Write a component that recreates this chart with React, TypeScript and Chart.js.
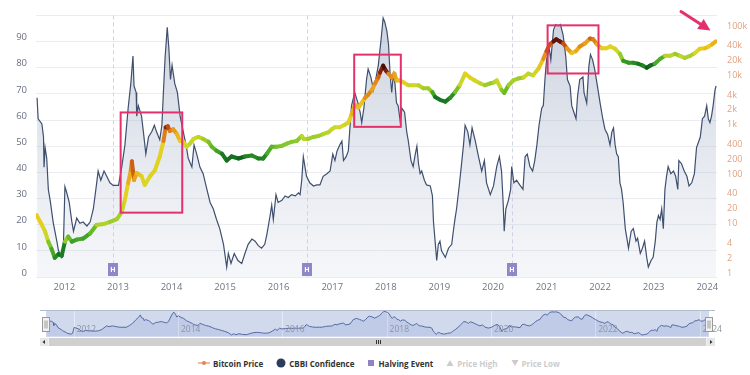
import { useEffect, useRef } from 'react';
import { Chart, registerables } from 'chart.js';

Chart.register(...registerables);

// CBBI confidence score (0-100), sampled in decimal years
const cbbiDates = [
  2011.49, 2011.51, 2011.58, 2011.61, 2011.62, 2011.64, 2011.67, 2011.7, 2011.74, 2011.79,
  2011.86, 2011.89, 2011.95, 2011.98, 2012.01, 2012.04, 2012.09, 2012.14, 2012.17, 2012.23,
  2012.29, 2012.35, 2012.42, 2012.48, 2012.54, 2012.6, 2012.63, 2012.68, 2012.74, 2012.79,
  2012.85, 2012.91, 2013.01, 2013.07, 2013.13, 2013.19, 2013.24, 2013.28, 2013.3, 2013.34,
  2013.35, 2013.38, 2013.44, 2013.48, 2013.52, 2013.57, 2013.63, 2013.68, 2013.72, 2013.78,
  2013.82, 2013.85, 2013.88, 2013.92, 2013.95, 2013.98, 2014.01, 2014.06, 2014.11, 2014.16,
  2014.22, 2014.28, 2014.31, 2014.38, 2014.42, 2014.47, 2014.53, 2014.59, 2014.66, 2014.72,
  2014.78, 2014.84, 2014.9, 2014.97, 2015.03, 2015.06, 2015.11, 2015.17, 2015.24, 2015.31,
  2015.37, 2015.43, 2015.5, 2015.56, 2015.62, 2015.68, 2015.74, 2015.78, 2015.84, 2015.87,
  2015.9, 2015.95, 2015.99, 2016.06, 2016.12, 2016.18, 2016.24, 2016.31, 2016.37, 2016.4,
  2016.43, 2016.46, 2016.49, 2016.52, 2016.58, 2016.65, 2016.71, 2016.77, 2016.83, 2016.9,
  2016.96, 2017.01, 2017.05, 2017.09, 2017.14, 2017.18, 2017.21, 2017.26, 2017.3, 2017.33,
  2017.36, 2017.42, 2017.48, 2017.52, 2017.55, 2017.59, 2017.64, 2017.67, 2017.72, 2017.77,
  2017.82, 2017.86, 2017.91, 2017.95, 2017.98, 2018.02, 2018.05, 2018.08, 2018.11, 2018.14,
  2018.17, 2018.2, 2018.23, 2018.27, 2018.3, 2018.35, 2018.39, 2018.42, 2018.47, 2018.51,
  2018.55, 2018.58, 2018.61, 2018.64, 2018.67, 2018.72, 2018.76, 2018.83, 2018.87, 2018.89,
  2018.92, 2018.95, 2018.98, 2019.01, 2019.04, 2019.11, 2019.17, 2019.23, 2019.26, 2019.29,
  2019.32, 2019.37, 2019.42, 2019.45, 2019.48, 2019.53, 2019.57, 2019.61, 2019.67, 2019.73,
  2019.79, 2019.84, 2019.88, 2019.95, 2020.01, 2020.07, 2020.12, 2020.16, 2020.19, 2020.21,
  2020.24, 2020.29, 2020.33, 2020.35, 2020.39, 2020.44, 2020.5, 2020.56, 2020.6, 2020.64,
  2020.69, 2020.74, 2020.78, 2020.82, 2020.86, 2020.91, 2020.94, 2020.97, 2021.0, 2021.05,
  2021.08, 2021.13, 2021.17, 2021.22, 2021.26, 2021.31, 2021.36, 2021.39, 2021.44, 2021.47,
  2021.51, 2021.55, 2021.58, 2021.62, 2021.68, 2021.7, 2021.75, 2021.79, 2021.82, 2021.86,
  2021.9, 2021.95, 2022.0, 2022.05, 2022.09, 2022.14, 2022.185, 2022.22, 2022.25, 2022.28,
  2022.31, 2022.34, 2022.37, 2022.4, 2022.43, 2022.47, 2022.5, 2022.53, 2022.58, 2022.62,
  2022.67, 2022.7, 2022.75, 2022.79, 2022.83, 2022.87, 2022.9, 2022.95, 2022.99, 2023.03,
  2023.06, 2023.09, 2023.12, 2023.15, 2023.18, 2023.21, 2023.24, 2023.27, 2023.32, 2023.37,
  2023.41, 2023.45, 2023.47, 2023.52, 2023.57, 2023.62, 2023.66, 2023.71, 2023.76, 2023.8,
  2023.87, 2023.91, 2023.95, 2023.99, 2024.02, 2024.05, 2024.08, 2024.11, 2024.145, 2024.165,
];
const cbbiValues = [
  68.5, 60.5, 58.5, 53.5, 42, 49.5, 45.5, 33.5, 28.5, 21,
  13.5, 10, 7.5, 11, 34.5, 32.5, 28.5, 21, 17.5, 22.5,
  20.5, 21, 19.5, 21, 26, 35.5, 40.5, 37, 40.5, 38.5,
  36, 35, 35, 42, 50.5, 64.5, 74, 84.5, 73, 70.5,
  61.5, 65.5, 61.5, 54.5, 47, 53.5, 55.5, 58, 55.5, 52.5,
  58, 71.5, 84, 95.5, 87.5, 75.5, 81, 74, 70.5, 61.5,
  55.5, 49.5, 45.5, 42, 50.5, 47, 42, 39.5, 33.5, 28.5,
  26, 22, 18.5, 12.5, 3.8, 9, 5.2, 9, 6.3, 5.2,
  9, 12.5, 14.5, 13.7, 12, 11, 12.5, 16.3, 23.5, 27.5,
  22, 31.5, 28.5, 29.3, 31, 30.4, 31.5, 31, 32.2, 31.5,
  37, 46, 42.2, 38.5, 36, 34.8, 35.2, 35.2, 38.5, 39.5,
  40.5, 47, 44.5, 48.2, 50.5, 52, 44.5, 46, 48.2, 57,
  65.5, 70.5, 66.5, 63, 59, 64.5, 75.5, 79.5, 76.5, 71.5,
  76.5, 81, 90.5, 99, 97.5, 94, 89, 77.5, 70.5, 77.5,
  74, 66.5, 65.5, 59.3, 64.5, 63, 55.5, 52, 44.5, 42.2,
  47, 50, 43.3, 39.5, 40.5, 37, 35.2, 34.8, 31, 21,
  13.7, 6.3, 12.5, 13.7, 10, 7.5, 11, 12.5, 17.5, 22,
  26, 34.8, 44.5, 50.5, 58, 55.5, 50.5, 57, 52, 46,
  40.5, 44.5, 36, 31.5, 34.8, 42.2, 46, 40.5, 28.5, 17.5,
  26, 29.5, 33.5, 42.2, 36, 37, 35.2, 33.5, 46, 47,
  42.2, 40.5, 44.5, 50.5, 58, 64.5, 65.5, 75.5, 83, 87.5,
  83, 94.5, 96.5, 96, 96.5, 92.5, 84, 75.5, 73, 65.5,
  63, 60.5, 69.3, 75.5, 76.5, 70.5, 66.5, 80.5, 85, 83,
  79.3, 73, 66.5, 60.5, 56.5, 54.5, 50.5, 55.5, 57, 50.5,
  47, 46, 36, 33.5, 28.5, 18.5, 14.8, 11, 17.5, 18.5,
  13.7, 14.8, 9, 11, 13.7, 7.5, 3.8, 6.3, 7.5, 13.7,
  21, 23.5, 22, 26, 18.5, 33.5, 38.5, 42.2, 39.5, 40.5,
  38.5, 33.5, 44.5, 43.3, 40.5, 38.5, 34.8, 36, 39.5, 49.5,
  53.5, 60.5, 61.5, 65.5, 60.5, 59, 61.5, 65.5, 71.5, 73,
];

// Bitcoin price in USD (log axis), sampled in decimal years
const priceDates = [
  2011.48, 2011.58, 2011.64, 2011.7, 2011.76, 2011.82, 2011.89, 2011.95, 2012.01, 2012.07,
  2012.14, 2012.23, 2012.35, 2012.48, 2012.6, 2012.73, 2012.85, 2012.98, 2013.07, 2013.13,
  2013.19, 2013.24, 2013.26, 2013.3, 2013.35, 2013.44, 2013.5, 2013.6, 2013.69, 2013.78,
  2013.85, 2013.89, 2013.93, 2013.97, 2014.03, 2014.1, 2014.16, 2014.22, 2014.28, 2014.34,
  2014.41, 2014.5, 2014.59, 2014.69, 2014.75, 2014.84, 2014.94, 2015.03, 2015.12, 2015.25,
  2015.37, 2015.5, 2015.62, 2015.71, 2015.78, 2015.87, 2015.96, 2016.06, 2016.15, 2016.24,
  2016.34, 2016.43, 2016.47, 2016.55, 2016.65, 2016.74, 2016.83, 2016.93, 2016.99, 2017.05,
  2017.14, 2017.24, 2017.3, 2017.36, 2017.42, 2017.49, 2017.55, 2017.61, 2017.67, 2017.74,
  2017.8, 2017.86, 2017.89, 2017.95, 2018.0, 2018.05, 2018.11, 2018.16, 2018.2, 2018.26,
  2018.33, 2018.42, 2018.51, 2018.61, 2018.7, 2018.79, 2018.87, 2018.92, 2019.01, 2019.11,
  2019.2, 2019.29, 2019.38, 2019.48, 2019.57, 2019.66, 2019.76, 2019.85, 2019.95, 2020.02,
  2020.07, 2020.16, 2020.21, 2020.29, 2020.38, 2020.47, 2020.57, 2020.66, 2020.75, 2020.85,
  2020.94, 2021.0, 2021.06, 2021.13, 2021.18, 2021.25, 2021.31, 2021.38, 2021.47, 2021.55,
  2021.62, 2021.72, 2021.81, 2021.87, 2021.94, 2022.03, 2022.12, 2022.19, 2022.28, 2022.37,
  2022.43, 2022.53, 2022.62, 2022.71, 2022.8, 2022.87, 2022.93, 2023.02, 2023.12, 2023.21,
  2023.3, 2023.4, 2023.49, 2023.58, 2023.68, 2023.77, 2023.86, 2023.96, 2024.03, 2024.09,
  2024.16,
];
const priceValues = [
  18, 11.3, 8.3, 5.2, 3.7, 2.45, 2.9, 2.7, 5.2, 6.6,
  5.2, 5.7, 6, 7.6, 11.3, 11.8, 13, 14.9, 20.5, 37,
  80, 145, 220, 92, 127, 110, 73, 110, 145, 275,
  567, 1070, 1120, 900, 975, 780, 567, 543, 433, 494,
  622, 683, 622, 543, 433, 360, 313, 228, 275, 250,
  275, 287, 250, 250, 313, 433, 433, 451, 500, 543,
  567, 714, 622, 622, 683, 714, 780, 854, 975, 1070,
  1070, 1220, 1340, 1940, 3050, 2680, 3350, 4200, 4880, 6100,
  8300, 10900, 13700, 18900, 15000, 13100, 10900, 13100, 9500, 9500,
  8700, 7600, 7600, 7600, 6600, 6600, 5500, 4400, 3850, 3550,
  4200, 5500, 7600, 13100, 10900, 9500, 8300, 7600, 8300, 8700,
  9500, 6100, 5300, 7600, 9500, 10400, 10900, 13100, 12100, 16500,
  26000, 37300, 51200, 58600, 64700, 58600, 53700, 42700, 34200, 37300,
  46400, 53700, 67100, 64700, 51200, 42700, 42700, 46400, 41500, 32900,
  23700, 21700, 21700, 20700, 18900, 17200, 18900, 20700, 26000, 29900,
  29900, 32900, 29900, 27200, 29900, 34200, 41500, 42700, 46400, 51200,
  58600,
];

const yearTicks = [2012, 2013, 2014, 2015, 2016, 2017, 2018, 2019, 2020, 2021, 2022, 2023, 2024];
const navigatorYears = [2012, 2014, 2016, 2018, 2020, 2022, 2024];
const confidenceTicks = [0, 10, 20, 30, 40, 50, 60, 70, 80, 90, 100];
const priceTicks = [1, 2, 4, 10, 20, 40, 100, 200, 400, 1000, 2000, 4000, 10000, 20000, 40000, 100000];
const halvingDates = [2012.91, 2016.52, 2020.36];

// Highlighted cycle tops: year span and CBBI span of each box
const highlightStart = [2013.05, 2017.41, 2021.02];
const highlightEnd = [2014.2, 2018.28, 2021.97];
const highlightTop = [62.9, 85.0, 96.2];
const highlightBottom = [24.6, 57.4, 77.8];
// Pointer towards the latest price: [year, CBBI]
const arrowFrom = [2023.51, 101.5];
const arrowTo = [2024.06, 94.2];

const legendLabels = ['Bitcoin Price', 'CBBI Confidence', 'Halving Event', 'Price High', 'Price Low'];

const FONT = '"Open Sans", "DejaVu Sans", sans-serif';
const X_MIN = 2011.47;
const X_MAX = 2024.182;
const PINK = '#e4316c';

// confidence -> colour ramp (green → yellow → orange → dark red)
const colorStops: [number, number, number, number][] = [
  [0, 10, 75, 30],
  [10, 25, 120, 35],
  [20, 65, 165, 38],
  [30, 130, 198, 42],
  [40, 185, 212, 45],
  [50, 214, 215, 40],
  [60, 232, 205, 30],
  [70, 235, 170, 30],
  [80, 222, 125, 22],
  [88, 190, 75, 15],
  [94, 120, 25, 10],
  [100, 45, 5, 5],
];

function confidenceColor(v: number): string {
  const c = Math.max(0, Math.min(100, v));
  for (let i = 1; i < colorStops.length; i++) {
    const a = colorStops[i - 1];
    const b = colorStops[i];
    if (c <= b[0]) {
      const t = (c - a[0]) / (b[0] - a[0]);
      const r = Math.round(a[1] + t * (b[1] - a[1]));
      const g = Math.round(a[2] + t * (b[2] - a[2]));
      const bl = Math.round(a[3] + t * (b[3] - a[3]));
      return `rgb(${r},${g},${bl})`;
    }
  }
  return 'rgb(45,5,5)';
}

function cbbiAt(x: number): number {
  if (x <= cbbiDates[0]) return cbbiValues[0];
  for (let i = 1; i < cbbiDates.length; i++) {
    if (x <= cbbiDates[i]) {
      const t = (x - cbbiDates[i - 1]) / (cbbiDates[i] - cbbiDates[i - 1]);
      return cbbiValues[i - 1] + t * (cbbiValues[i] - cbbiValues[i - 1]);
    }
  }
  return cbbiValues[cbbiValues.length - 1];
}

const cbbiPoints = cbbiDates.map((x, i) => ({ x, y: cbbiValues[i] }));
const pricePoints = priceDates.map((x, i) => ({ x, y: priceValues[i] }));

const halvingPlugin = {
  id: 'halvingPlugin',
  beforeDatasetsDraw(chart: any) {
    const { ctx, chartArea, scales } = chart;
    ctx.save();
    ctx.strokeStyle = '#d2d4e6';
    ctx.lineWidth = 1;
    ctx.setLineDash([4, 3]);
    halvingDates.forEach((d) => {
      const x = Math.round(scales.x.getPixelForValue(d)) + 0.5;
      ctx.beginPath();
      ctx.moveTo(x, chartArea.top);
      ctx.lineTo(x, chartArea.bottom);
      ctx.stroke();
    });
    ctx.restore();
  },
  afterDatasetsDraw(chart: any) {
    const { ctx, chartArea, scales } = chart;
    ctx.save();
    halvingDates.forEach((d) => {
      const x = Math.round(scales.x.getPixelForValue(d));
      ctx.fillStyle = '#9087c8';
      ctx.fillRect(x - 5, chartArea.bottom - 14, 10, 13);
      ctx.fillStyle = '#ffffff';
      ctx.font = `bold 7px ${FONT}`;
      ctx.textAlign = 'center';
      ctx.textBaseline = 'middle';
      ctx.fillText('H', x, chartArea.bottom - 7.5);
    });
    ctx.restore();
  },
};

const highlightPlugin = {
  id: 'highlightPlugin',
  afterDraw(chart: any) {
    const { ctx, scales } = chart;
    const xs = scales.x;
    const ys = scales.y;
    ctx.save();
    ctx.strokeStyle = PINK;
    ctx.lineWidth = 2;
    highlightStart.forEach((s, i) => {
      const x0 = xs.getPixelForValue(s);
      const x1 = xs.getPixelForValue(highlightEnd[i]);
      const y0 = ys.getPixelForValue(highlightTop[i]);
      const y1 = ys.getPixelForValue(highlightBottom[i]);
      ctx.strokeRect(x0, y0, x1 - x0, y1 - y0);
    });
    const ax = xs.getPixelForValue(arrowFrom[0]);
    const ay = ys.getPixelForValue(arrowFrom[1]);
    const bx = xs.getPixelForValue(arrowTo[0]);
    const by = ys.getPixelForValue(arrowTo[1]);
    const ang = Math.atan2(by - ay, bx - ax);
    const headLen = 12;
    const headHalf = 6;
    const hx = bx - headLen * Math.cos(ang);
    const hy = by - headLen * Math.sin(ang);
    ctx.lineWidth = 3;
    ctx.lineCap = 'round';
    ctx.beginPath();
    ctx.moveTo(ax, ay);
    ctx.lineTo(hx, hy);
    ctx.stroke();
    ctx.fillStyle = PINK;
    ctx.beginPath();
    ctx.moveTo(bx, by);
    ctx.lineTo(hx + headHalf * Math.sin(ang), hy - headHalf * Math.cos(ang));
    ctx.lineTo(hx - headHalf * Math.sin(ang), hy + headHalf * Math.cos(ang));
    ctx.closePath();
    ctx.fill();
    ctx.restore();
  },
};

const navigatorPlugin = {
  id: 'navigatorPlugin',
  beforeDatasetsDraw(chart: any) {
    const { ctx, chartArea, scales } = chart;
    const { left, right, top, bottom } = chartArea;
    ctx.save();
    ctx.fillStyle = 'rgba(102,133,194,0.3)';
    ctx.fillRect(left, top, right - left, bottom - top);
    ctx.strokeStyle = 'rgba(255,255,255,0.45)';
    ctx.lineWidth = 1;
    navigatorYears.forEach((yr) => {
      const x = Math.round(scales.x.getPixelForValue(yr)) + 0.5;
      ctx.beginPath();
      ctx.moveTo(x, top);
      ctx.lineTo(x, bottom);
      ctx.stroke();
    });
    ctx.restore();
  },
  afterDatasetsDraw(chart: any) {
    const { ctx, chartArea, scales } = chart;
    const { left, right, top, bottom } = chartArea;
    ctx.save();
    // year labels
    ctx.fillStyle = '#8d93a3';
    ctx.font = `8.5px ${FONT}`;
    ctx.textAlign = 'left';
    ctx.textBaseline = 'middle';
    navigatorYears.forEach((yr) => {
      const x = scales.x.getPixelForValue(yr);
      ctx.fillText(String(yr), x + 3, bottom - 7);
    });
    // outline
    ctx.strokeStyle = '#b3bccd';
    ctx.lineWidth = 1;
    ctx.beginPath();
    ctx.moveTo(left - 6, top + 0.5);
    ctx.lineTo(right + 6, top + 0.5);
    ctx.stroke();
    // handles
    [left, right].forEach((hx) => {
      const x = Math.round(hx) - 3.5;
      const y = top + 7.5;
      ctx.fillStyle = '#f2f2f2';
      ctx.strokeStyle = '#999999';
      ctx.fillRect(x, y, 7, 14);
      ctx.strokeRect(x, y, 7, 14);
      ctx.beginPath();
      ctx.moveTo(x + 2.5, y + 3);
      ctx.lineTo(x + 2.5, y + 11);
      ctx.moveTo(x + 4.5, y + 3);
      ctx.lineTo(x + 4.5, y + 11);
      ctx.stroke();
    });
    // scrollbar
    const sy = bottom + 1;
    const sh = 8;
    const sl = left - 6;
    const sr = right + 6;
    ctx.fillStyle = '#f0f0f0';
    ctx.fillRect(sl, sy, sr - sl, sh);
    ctx.fillStyle = '#d0d0d0';
    ctx.fillRect(sl + 9, sy, sr - sl - 18, sh);
    ctx.fillStyle = '#e6e6e6';
    ctx.fillRect(sl, sy, 8, sh);
    ctx.fillRect(sr - 8, sy, 8, sh);
    ctx.fillStyle = '#333333';
    ctx.beginPath();
    ctx.moveTo(sl + 2.5, sy + sh / 2);
    ctx.lineTo(sl + 5, sy + 2);
    ctx.lineTo(sl + 5, sy + sh - 2);
    ctx.closePath();
    ctx.fill();
    ctx.beginPath();
    ctx.moveTo(sr - 2.5, sy + sh / 2);
    ctx.lineTo(sr - 5, sy + 2);
    ctx.lineTo(sr - 5, sy + sh - 2);
    ctx.closePath();
    ctx.fill();
    const cx = Math.round((sl + sr) / 2);
    ctx.strokeStyle = '#333333';
    ctx.lineWidth = 1;
    ctx.beginPath();
    [-2, 0, 2].forEach((o) => {
      ctx.moveTo(cx + o + 0.5, sy + 2);
      ctx.lineTo(cx + o + 0.5, sy + sh - 2);
    });
    ctx.stroke();
    ctx.restore();
  },
};

function LegendItem({ index }: { index: number }) {
  const hidden = index >= 3;
  let symbol: any = null;
  if (index === 0) {
    symbol = (
      <svg width="12" height="10">
        <line x1="0" y1="5" x2="12" y2="5" stroke="#e9a77f" strokeWidth="1.5" />
        <circle cx="6" cy="5" r="2" fill="#e0855a" />
      </svg>
    );
  } else if (index === 1) {
    symbol = (
      <svg width="10" height="10">
        <circle cx="5" cy="5" r="4.5" fill="#2c3d5c" />
      </svg>
    );
  } else if (index === 2) {
    symbol = (
      <svg width="8" height="10">
        <rect x="1" y="2" width="6" height="6" fill="#8f84c6" />
      </svg>
    );
  } else if (index === 3) {
    symbol = (
      <svg width="8" height="10">
        <polygon points="4,2 7.5,8 0.5,8" fill="#cccccc" />
      </svg>
    );
  } else {
    symbol = (
      <svg width="8" height="10">
        <polygon points="0.5,2 7.5,2 4,8" fill="#cccccc" />
      </svg>
    );
  }
  return (
    <div style={{ display: 'flex', alignItems: 'center', gap: 3 }}>
      {symbol}
      <span
        style={{
          fontFamily: FONT,
          fontSize: 8,
          fontWeight: 700,
          color: hidden ? '#cccccc' : '#333333',
          whiteSpace: 'nowrap',
        }}
      >
        {legendLabels[index]}
      </span>
    </div>
  );
}

export default function App() {
  const mainRef = useRef<HTMLCanvasElement>(null);
  const navRef = useRef<HTMLCanvasElement>(null);

  useEffect(() => {
    if (!mainRef.current || !navRef.current) return;

    const main = new Chart(mainRef.current, {
      type: 'line',
      data: {
        datasets: [
          {
            label: 'Bitcoin Price',
            data: pricePoints,
            yAxisID: 'price',
            borderColor: '#e0a060',
            borderWidth: 4,
            borderCapStyle: 'round',
            borderJoinStyle: 'round',
            pointRadius: 0,
            tension: 0,
            order: 0,
            segment: {
              borderColor: (c: any) => confidenceColor(cbbiAt((c.p0.parsed.x + c.p1.parsed.x) / 2)),
            },
          } as any,
          {
            label: 'CBBI Confidence',
            data: cbbiPoints,
            yAxisID: 'y',
            borderColor: '#3f4f6e',
            borderWidth: 1.2,
            pointRadius: 0,
            tension: 0,
            order: 1,
            fill: 'origin',
            backgroundColor: (c: any) => {
              const area = c.chart.chartArea;
              if (!area) return 'rgba(200,208,222,0.3)';
              const g = c.chart.ctx.createLinearGradient(0, area.top, 0, area.bottom);
              g.addColorStop(0, 'rgba(160,172,196,0.55)');
              g.addColorStop(1, 'rgba(200,208,222,0.18)');
              return g;
            },
          } as any,
        ],
      },
      options: {
        responsive: false,
        animation: false,
        devicePixelRatio: 1,
        layout: { padding: { top: 8, left: 0, right: 0, bottom: 0 } },
        plugins: { legend: { display: false }, tooltip: { enabled: false } },
        scales: {
          x: {
            type: 'linear',
            min: X_MIN,
            max: X_MAX,
            grid: { display: false, drawTicks: false },
            border: { display: false },
            afterBuildTicks: (s: any) => {
              s.ticks = yearTicks.map((v) => ({ value: v }));
            },
            afterFit: (s: any) => {
              s.height = 23;
            },
            ticks: {
              padding: 5,
              maxRotation: 0,
              autoSkip: false,
              color: '#6f7484',
              font: { family: FONT, size: 9.5 },
              callback: (v: any) => String(v),
            },
          },
          y: {
            type: 'linear',
            position: 'left',
            min: 0,
            max: 100,
            grid: { color: '#eaecf0', drawTicks: false },
            border: { display: false },
            afterBuildTicks: (s: any) => {
              s.ticks = confidenceTicks.map((v) => ({ value: v }));
            },
            afterFit: (s: any) => {
              s.width = 36;
            },
            ticks: {
              padding: 9,
              labelOffset: -4,
              color: '#6b7082',
              font: { family: FONT, size: 9.5 },
              callback: (v: any) => (v === 100 ? '' : String(v)),
            },
          },
          price: {
            type: 'logarithmic',
            position: 'right',
            min: 1,
            max: 197000,
            grid: { display: false, drawTicks: false },
            border: { display: false },
            afterBuildTicks: (s: any) => {
              s.ticks = priceTicks.map((v) => ({ value: v }));
            },
            afterFit: (s: any) => {
              s.width = 33;
            },
            ticks: {
              padding: 10,
              labelOffset: -4,
              color: '#e2a283',
              font: { family: FONT, size: 9 },
              callback: (v: any) => (v >= 1000 ? `${v / 1000}k` : String(v)),
            },
          },
        },
      } as any,
      plugins: [halvingPlugin, highlightPlugin],
    });

    const nav = new Chart(navRef.current, {
      type: 'line',
      data: {
        datasets: [
          {
            data: cbbiPoints,
            borderColor: '#5468a3',
            borderWidth: 1,
            pointRadius: 0,
            tension: 0,
            fill: 'origin',
            backgroundColor: 'rgba(51,92,173,0.1)',
          } as any,
        ],
      },
      options: {
        responsive: false,
        animation: false,
        devicePixelRatio: 1,
        layout: { padding: { top: 5, left: 46, right: 41, bottom: 13 } },
        plugins: { legend: { display: false }, tooltip: { enabled: false } },
        scales: {
          x: { type: 'linear', min: X_MIN, max: X_MAX, display: false },
          y: { type: 'linear', min: -4, max: 104, display: false },
        },
      } as any,
      plugins: [navigatorPlugin],
    });

    return () => {
      main.destroy();
      nav.destroy();
    };
  }, []);

  return (
    <div
      style={{
        position: 'absolute',
        left: 0,
        top: 0,
        width: 750,
        height: 375,
        background: '#ffffff',
        overflow: 'hidden',
      }}
    >
      <canvas ref={mainRef} width={750} height={300} style={{ position: 'absolute', left: 0, top: 0 }} />
      <canvas ref={navRef} width={750} height={45} style={{ position: 'absolute', left: 0, top: 305 }} />
      <div
        style={{
          position: 'absolute',
          left: 0,
          top: 356,
          width: 750,
          height: 14,
          display: 'flex',
          justifyContent: 'center',
          alignItems: 'center',
          gap: 13,
          paddingLeft: 8,
          boxSizing: 'border-box',
        }}
      >
        {legendLabels.map((_, i) => (
          <LegendItem key={i} index={i} />
        ))}
      </div>
    </div>
  );
}
